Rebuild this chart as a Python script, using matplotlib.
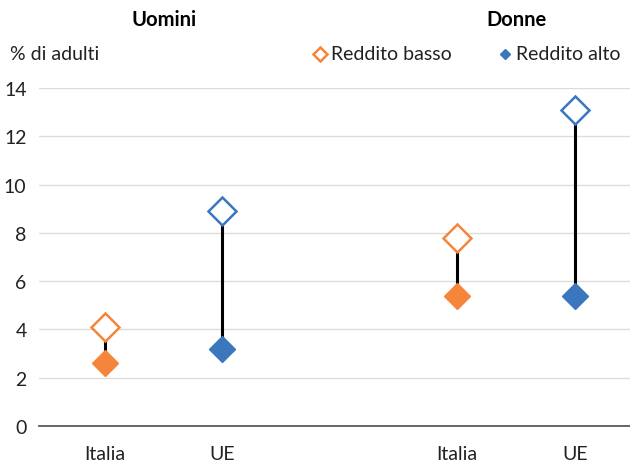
import matplotlib
matplotlib.use("Agg")
import matplotlib.pyplot as plt
from matplotlib.lines import Line2D

plt.rcParams['font.family'] = ['Lato', 'DejaVu Sans']

# share of adults, by sex and area
groups = ["Uomini", "Donne"]
countries = ["Italia", "UE", "Italia", "UE"]
x_pos = [0, 1, 3, 4]
group_centers = [0.5, 3.5]
reddito_basso = [4.1, 8.9, 7.8, 13.1]
reddito_alto = [2.6, 3.2, 5.4, 5.4]
legend_labels = ["Reddito basso", "Reddito alto"]

ORANGE = "#F5853A"
BLUE = "#3A77BD"
TEXT = "#222222"
colors = [ORANGE, BLUE, ORANGE, BLUE]

W, H = 630, 464
fig = plt.figure(figsize=(W / 100, H / 100), dpi=100)
ax = fig.add_axes([0.062, 0.08, 0.938, 0.728])

for x, lo, hi, c in zip(x_pos, reddito_basso, reddito_alto, colors):
    ax.plot([x, x], [hi, lo], color="black", lw=2.2, zorder=2)
    ax.plot(x, hi, marker="D", ms=13, color=c, mec=c, zorder=3, ls="none")
    ax.plot(x, lo, marker="D", ms=14, mfc="white", mec=c, mew=1.8,
            zorder=3, ls="none")

ax.set_ylim(0, 14)
ax.set_xlim(-0.56, 4.47)
ax.set_yticks(range(0, 15, 2))
ax.set_xticks(x_pos)
ax.set_xticklabels(countries)
ax.tick_params(axis="both", length=0, labelsize=14, colors=TEXT)
ax.tick_params(axis="x", pad=14)
ax.tick_params(axis="y", pad=9)
ax.grid(axis="y", color="#dcdcdc", lw=1)
ax.set_axisbelow(True)
for s in ["top", "right", "left"]:
    ax.spines[s].set_visible(False)
ax.spines["bottom"].set_color("#595959")
ax.spines["bottom"].set_linewidth(1.3)

# group titles above each pair
for gx, g in zip(group_centers, groups):
    px = ax.transData.transform((gx, 0))[0]
    fig.text(px / W, 1 - 20 / H, g, ha="center", va="center",
             fontsize=14.5, fontweight="bold", color="black")

fig.text(10 / W, 1 - 55 / H, "% di adulti", ha="left", va="center",
         fontsize=14, color=TEXT)

# legend drawn by hand on the figure
ly = 1 - 55 / H
fig.add_artist(Line2D([320 / W], [ly], marker="D", ls="none", ms=7.5,
                      mfc="white", mec=ORANGE, mew=1.8))
fig.text(331 / W, ly, legend_labels[0], ha="left", va="center",
         fontsize=14, color=TEXT)
fig.add_artist(Line2D([505 / W], [ly], marker="D", ls="none", ms=5.5,
                      color=BLUE))
fig.text(516 / W, ly, legend_labels[1], ha="left", va="center",
         fontsize=14, color=TEXT)

fig.savefig("out.png", dpi=100)
